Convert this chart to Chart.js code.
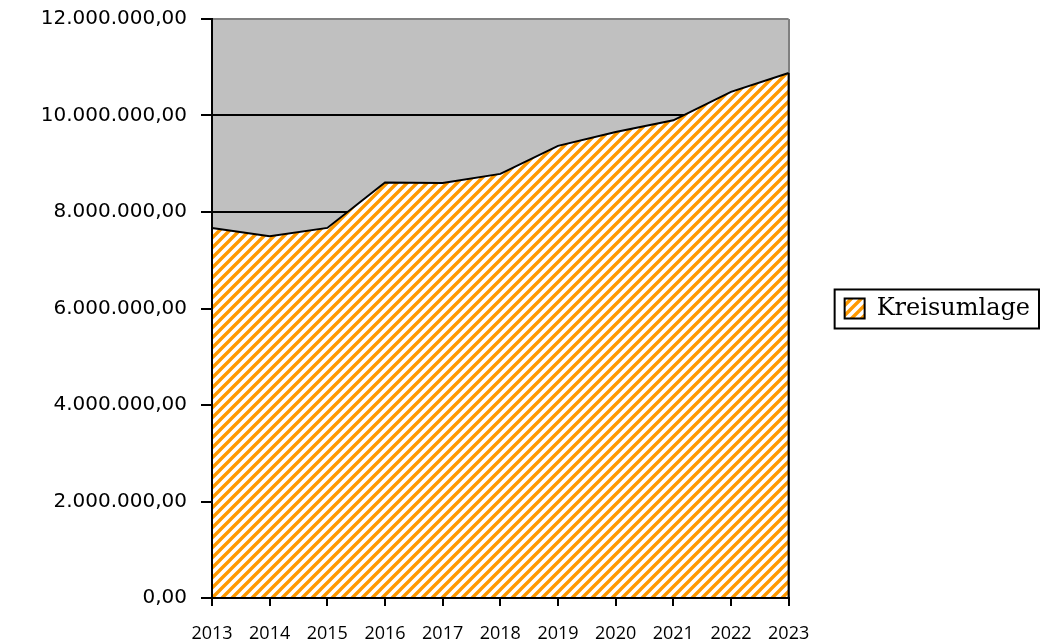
<!DOCTYPE html>
<html>
<head>
<meta charset="utf-8">
<script src="https://cdn.jsdelivr.net/npm/chart.js@4/dist/chart.umd.min.js"></script>
<style>
  html, body { margin: 0; padding: 0; background: #fff; }
  #wrap { width: 1042px; height: 644px; }
</style>
</head>
<body>
<div id="wrap"><canvas id="myChart" width="1042" height="644"></canvas></div>
<script>
(function() {

  "use strict";

  var years = ['2013', '2014', '2015', '2016', '2017', '2018', '2019', '2020', '2021', '2022', '2023'];
  var kreisumlage = [7670000, 7500000, 7670000, 8610000, 8600000, 8790000, 9370000, 9660000, 9900000, 10490000, 10880000];
  var yTicks = [0, 2000000, 4000000, 6000000, 8000000, 10000000, 12000000];

  // diagonal orange hatch like the old excel fill
  function hatch() {
    var n = 10;
    var c = document.createElement('canvas');
    c.width = n; c.height = n;
    var g = c.getContext('2d');
    g.fillStyle = '#ffffff';
    g.fillRect(0, 0, n, n);
    g.strokeStyle = '#ff9900';
    g.lineWidth = 3.4;
    g.beginPath();
    g.moveTo(-2, n + 2); g.lineTo(n + 2, -2);      // x+y = n
    g.moveTo(-3, 3); g.lineTo(3, -3);              // x+y = 0
    g.moveTo(n - 3, n + 3); g.lineTo(n + 3, n - 3); // x+y = 2n
    g.stroke();
    return g.createPattern(c, 'repeat');
  }

  function deNum(v) {
    var s = Math.round(v).toString().replace(/\B(?=(\d{3})+(?!\d))/g, '.');
    return s + ',00';
  }

  var plotBg = {
    id: 'plotBg',
    beforeDraw: function(chart) {
      var a = chart.chartArea, ctx = chart.ctx;
      ctx.save();
      ctx.fillStyle = '#c0c0c0';
      ctx.fillRect(a.left, a.top, a.right - a.left, a.bottom - a.top);
      ctx.restore();
    }
  };

  // black outline on the sides of the area + border round the legend
  var edges = {
    id: 'edges',
    afterDatasetsDraw: function(chart) {
      var ctx = chart.ctx, x = chart.scales.x, y = chart.scales.y;
      var last = kreisumlage.length - 1;
      ctx.save();
      ctx.strokeStyle = '#000';
      ctx.lineWidth = 2;
      ctx.beginPath();
      ctx.moveTo(x.getPixelForValue(0), y.getPixelForValue(kreisumlage[0]));
      ctx.lineTo(x.getPixelForValue(0), y.getPixelForValue(0));
      ctx.lineTo(x.getPixelForValue(last), y.getPixelForValue(0));
      ctx.lineTo(x.getPixelForValue(last), y.getPixelForValue(kreisumlage[last]));
      ctx.stroke();
      ctx.restore();
    },
    afterDraw: function(chart) {
      var lg = chart.legend;
      if (!lg || !lg.legendHitBoxes || !lg.legendHitBoxes.length) return;
      var hb = lg.legendHitBoxes[0];
      var ctx = chart.ctx;
      ctx.save();
      ctx.strokeStyle = '#000';
      ctx.lineWidth = 2;
      ctx.strokeRect(hb.left - 10, hb.top - 7, lg.right - 1 - (hb.left - 10), hb.height + 15);
      ctx.restore();
    }
  };

  var ctx = document.getElementById('myChart').getContext('2d');

  var myChart = new Chart(ctx, {
    type: 'line',
    data: {
      labels: years,
      datasets: [
        {
          label: 'Kreisumlage',
          data: kreisumlage,
          backgroundColor: hatch(),
          borderColor: '#000000',
          borderWidth: 2,
          pointRadius: 0,
          tension: 0,
          fill: 'origin'
        }
      ]
    },
    options: {
      responsive: false,
      animation: false,
      layout: { padding: { top: 19, right: 2, left: 0, bottom: 0 } },
      plugins: {
        tooltip: { enabled: false },
        legend: {
          position: 'right',
          fullSize: false,
          labels: {
            boxWidth: 20,
            boxHeight: 20,
            padding: 56,
            color: '#000',
            font: { family: 'DejaVu Serif', size: 24 }
          }
        }
      },
      scales: {
        x: {
          offset: false,
          grid: {
            display: true,
            drawOnChartArea: true,
            color: function(c) { return c.index === years.length - 1 ? '#808080' : 'rgba(0,0,0,0)'; },
            lineWidth: 2,
            tickColor: '#000',
            tickLength: 8,
            tickWidth: 2
          },
          border: { color: '#000', width: 2 },
          ticks: {
            color: '#000',
            padding: 17,
            maxRotation: 0,
            autoSkip: false,
            font: { family: 'Open Sans', size: 18 }
          },
          afterFit: function(s) { s.height = 46; }
        },
        y: {
          min: 0,
          max: 12000000,
          afterBuildTicks: function(s) { s.ticks = yTicks.map(function(v) { return { value: v }; }); },
          grid: {
            color: function(c) { return c.tick && c.tick.value === 12000000 ? '#808080' : '#000'; },
            lineWidth: 2,
            tickColor: '#000',
            tickLength: 11,
            tickWidth: 2
          },
          border: { color: '#000', width: 2 },
          ticks: {
            color: '#000',
            padding: 14,
            font: { family: 'DejaVu Sans', size: 20 },
            callback: function(v) { return deNum(v); }
          },
          afterFit: function(s) {
            s.width = 212;
            s.paddingTop = 0;
            s.paddingBottom = 0;
          }
        }
      }
    },
    plugins: [plotBg, edges]
  });

})();
</script>
</body>
</html>
